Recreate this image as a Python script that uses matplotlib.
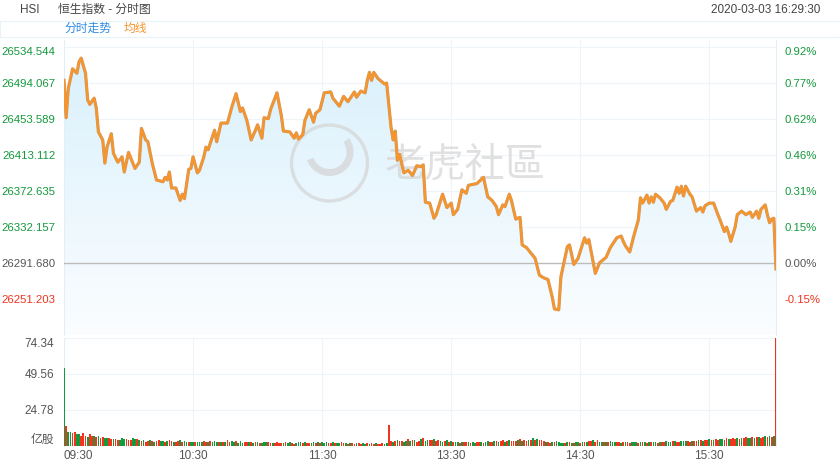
"""
HSI intraday chart (2020-03-03): price line with shaded area on top,
minute volume bars underneath.
"""

import matplotlib.pyplot as plt
import matplotlib.patheffects as pe
import numpy as np
from matplotlib.colors import LinearSegmentedColormap
from matplotlib.patches import Circle, Polygon, Rectangle, Wedge
from matplotlib.transforms import IdentityTransform

plt.rcParams['font.family'] = ['Liberation Sans', 'Noto Sans CJK SC', 'DejaVu Sans']

# Data
# ----------------------------------------------------------------------------

prev_close = 26291.680
price_ticks = [26251.203, 26291.680, 26332.157, 26372.635, 26413.112,
               26453.589, 26494.067, 26534.544]
price_range = (26210.7, 26542.4)    # visible level range of the price panel

# minute index since 09:30 (lunch break removed) and index level
price_min = [
    0, 1, 2, 4, 6, 7, 8, 10, 11, 12, 14, 15, 16, 18, 19, 20, 22, 23, 25, 27,
    28, 30, 33, 35, 36, 38, 39, 41, 43, 46, 47, 48, 49, 50, 52, 54, 55, 56, 58,
    59, 60, 62, 63, 65, 66, 67, 70, 71, 73, 76, 78, 80, 82, 83, 85, 87, 89, 90,
    92, 93, 95, 96, 99, 101, 102, 105, 107, 108, 109, 111, 112, 114, 116, 117,
    119, 121, 124, 125, 128, 130, 132, 135, 136, 138, 140, 141, 142, 143, 144,
    146, 149, 150, 152, 153, 154, 155, 156, 158, 160, 162, 164, 166, 167, 168,
    170, 172, 173, 176, 178, 180, 181, 183, 185, 187, 188, 192, 195, 197, 199,
    201, 202, 204, 205, 207, 208, 210, 212, 213, 215, 217, 219, 221, 223, 225,
    227, 228, 230, 231, 234, 235, 237, 239, 242, 243, 244, 247, 249, 252, 254,
    257, 259, 260, 261, 263, 265, 267, 268, 269, 271, 272, 273, 274, 275, 277,
    279, 280, 282, 283, 285, 286, 287, 288, 289, 291, 292, 294, 296, 297, 298,
    300, 302, 304, 305, 307, 308, 309, 310, 312, 313, 315, 317, 319, 320, 322,
    323, 324, 326, 327, 328, 329, 330, 331,
]
price = [
    26497, 26455, 26488, 26510, 26505, 26518, 26522, 26505, 26475, 26470,
    26477, 26466, 26439, 26430, 26404, 26422, 26437, 26415, 26405, 26411,
    26394, 26416, 26398, 26405, 26443, 26430, 26428, 26404, 26385, 26383,
    26388, 26385, 26394, 26376, 26376, 26362, 26369, 26364, 26397, 26398,
    26411, 26393, 26396, 26411, 26422, 26419, 26441, 26428, 26449, 26449,
    26467, 26482, 26462, 26466, 26452, 26430, 26441, 26447, 26432, 26455,
    26454, 26464, 26483, 26458, 26440, 26439, 26432, 26438, 26431, 26436,
    26452, 26464, 26450, 26460, 26464, 26483, 26484, 26477, 26468, 26479,
    26473, 26484, 26478, 26485, 26483, 26497, 26506, 26497, 26506, 26499,
    26493, 26494, 26445, 26430, 26440, 26407, 26414, 26393, 26396, 26390,
    26401, 26400, 26402, 26360, 26359, 26342, 26346, 26369, 26354, 26359,
    26346, 26352, 26374, 26370, 26379, 26381, 26388, 26366, 26362, 26355,
    26346, 26357, 26355, 26369, 26362, 26341, 26343, 26312, 26309, 26303,
    26297, 26278, 26275, 26273, 26253, 26240, 26239, 26276, 26310, 26312,
    26290, 26297, 26320, 26314, 26318, 26280, 26292, 26298, 26309, 26320,
    26322, 26316, 26311, 26304, 26323, 26340, 26365, 26359, 26368, 26359,
    26366, 26360, 26369, 26365, 26359, 26352, 26361, 26362, 26377, 26370,
    26378, 26367, 26378, 26369, 26366, 26350, 26354, 26349, 26356, 26359,
    26359, 26346, 26340, 26327, 26332, 26325, 26316, 26332, 26346, 26350,
    26346, 26349, 26343, 26350, 26342, 26352, 26357, 26346, 26337, 26341,
    26342, 26285,
]

# minute volume, 亿股 (one bar per minute, 332 bars)
volume = [
    53.7, 13.8, 9.9, 9.4, 8.7, 9.6, 8.3, 8.3, 6.9, 9.2,
    6.9, 6.4, 8.0, 7.1, 6.6, 6.4, 6.9, 5.5, 6.0, 5.7,
    5.3, 5.7, 4.8, 4.6, 5.0, 4.4, 4.4, 5.3, 5.0, 4.8,
    4.1, 3.9, 5.3, 4.8, 4.8, 4.4, 3.4, 3.9, 3.0, 3.7,
    4.1, 3.4, 3.0, 3.2, 3.9, 3.4, 3.6, 3.0, 3.7, 4.1,
    3.2, 3.0, 2.8, 3.7, 4.1, 3.0, 3.2, 3.0, 2.8, 2.8,
    2.5, 2.8, 2.5, 2.8, 3.0, 3.2, 3.0, 2.5, 3.2, 2.7,
    3.4, 2.5, 2.8, 3.0, 2.5, 2.5, 4.4, 2.8, 3.2, 3.0,
    3.4, 2.3, 3.6, 2.3, 3.0, 2.5, 2.5, 2.8, 2.1, 2.5,
    2.8, 2.3, 2.1, 2.5, 2.8, 2.5, 2.3, 1.8, 2.3, 2.5,
    2.1, 2.3, 2.1, 2.8, 1.8, 2.5, 2.3, 1.6, 2.1, 2.5,
    2.8, 2.1, 2.5, 2.3, 1.8, 2.3, 2.5, 2.1, 2.8, 2.3,
    2.5, 2.1, 2.8, 2.3, 2.1, 2.5, 2.3, 2.1, 1.8, 2.5,
    2.1, 1.8, 1.6, 2.1, 1.8, 1.6, 1.8, 2.1, 1.6, 1.8,
    1.4, 1.8, 1.6, 2.1, 1.6, 1.8, 1.4, 1.6, 1.8, 1.6,
    1.8,
    14.5, 3.2, 3.0, 3.4, 4.1, 3.2, 3.7, 3.0, 3.4, 4.6,
    3.7, 3.9, 4.1, 3.0, 3.2, 4.6, 5.3, 3.4, 4.1, 4.4,
    4.4, 4.6, 3.7, 3.9, 3.4, 3.0, 3.4, 4.4, 3.0, 3.7,
    3.0, 2.8, 2.5, 2.3, 2.5, 3.0, 2.5, 2.8, 2.3, 2.5,
    2.3, 2.8, 3.0, 2.5, 2.3, 2.8, 3.2, 2.5, 2.8, 3.2,
    3.4, 3.0, 3.7, 4.1, 3.0, 3.7, 4.4, 3.4, 3.2, 3.7,
    3.9, 4.6, 3.7, 4.1, 3.4, 4.4, 3.9, 5.3, 4.1, 4.8,
    3.9, 4.1, 3.4, 3.0, 2.5, 2.3, 2.5, 3.0, 3.2, 2.8,
    2.3, 2.1, 2.3, 2.5, 2.8, 2.3, 2.1, 2.5, 2.8, 2.3,
    2.5, 3.0, 2.8, 3.2, 3.7, 4.1, 3.0, 4.4, 2.5, 2.8,
    3.0, 2.5, 2.8, 3.2, 2.5, 2.8, 3.0, 2.5, 2.3, 2.8,
    2.5, 2.8, 2.3, 2.5, 2.8, 2.5, 2.3, 2.8, 3.0, 2.5,
    2.3, 2.5, 2.8, 3.0, 2.5, 2.3, 2.8, 3.0, 2.8, 3.2,
    3.0, 2.8, 3.2, 3.4, 3.0, 2.8, 3.4, 3.2, 3.7, 3.4,
    3.0, 3.2, 3.7, 3.4, 3.9, 4.1, 3.7, 4.4, 3.9, 4.6,
    4.1, 4.4, 4.8, 4.1, 4.6, 5.0, 4.4, 5.3, 4.6, 5.0,
    5.3, 4.8, 5.5, 5.0, 5.7, 5.3, 6.0, 5.5, 5.7, 6.2,
    5.7, 6.0, 6.4, 5.7, 6.2, 6.6, 6.0, 6.9, 6.4, 7.1,
    74.34,
]
# g = up minute, r = down minute
vol_dir = (
    'grggrrggrr' 'rgrrgrgrrg' 'grrgrrgggr' 'rrggrgrgrr' 'grgrrggrgr'
    'rgrrgrggrg' 'grgggrrgrg' 'ggrgrgrrgg' 'rgggrrgrgr' 'grgggrrgrr'
    'rrgrggrrgg' 'grgrrggrgr' 'gggrrgrggr' 'rgrgrrgrrg' 'grgrrgrrrg'
    'g'
    'rrgrgrrggr' 'grgrrgrggr' 'rgrrggrgrg' 'rggrgrrgrg' 'grrgrggrrg'
    'rgrrgrgrrr' 'grgrrgrgrg' 'rrrgrrgrgg' 'ggrgrgrggr' 'grgrrgrrgg'
    'rgrgggrrgr' 'grrgggrgrg' 'rgrggrgrrg' 'ggrgrrgggr' 'rgrrgrgrrg'
    'rgrrggrrgr' 'rrgrgrrggr' 'grgrrgrgrg'
    'r'
)
vol_ticks = [0, 24.78, 49.56, 74.34]
vol_labels = ['亿股', '24.78', '49.56', '74.34']

time_ticks = [0, 60, 120, 180, 240, 300]
time_labels = ['09:30', '10:30', '11:30', '13:30', '14:30', '15:30']
n_min = 331

assert len(price_min) == len(price)
assert len(volume) == len(vol_dir) == n_min + 1

# Colours
green = '#14993c'
red = '#f0341e'
grey = '#555555'
grid_c = '#edf5fa'
spine_c = '#e3eef6'

W, H = 840, 470


def fig_box(x0, y0, x1, y1):
    """Pixel box (top-left origin) to figure fraction rect."""
    return [x0 / W, 1 - y1 / H, (x1 - x0) / W, (y1 - y0) / H]


fig = plt.figure(figsize=(W / 100, H / 100), dpi=100)

# Header
# ----------------------------------------------------------------------------

fig.add_artist(Rectangle((0, 1 - 37 / H), 1, 16 / H, transform=fig.transFigure,
                         facecolor='none', edgecolor='#e8f2f9', lw=0.8))
fig.text(20 / W, 1 - 10 / H, 'HSI', color='#444444', fontsize=8.5, va='center')
fig.text(58 / W, 1 - 10 / H, '恒生指数 - 分时图', color='#444444', fontsize=8.5,
         va='center')
fig.text(820 / W, 1 - 10 / H, '2020-03-03 16:29:30', color='#444444',
         fontsize=8.5, va='center', ha='right')
fig.text(64 / W, 1 - 29 / H, '分时走势', color='#2d8be6', fontsize=8.5, va='center')
fig.text(124 / W, 1 - 29 / H, '均线', color='#f7952c', fontsize=8.5, va='center')

# Price panel
# ----------------------------------------------------------------------------

ax = fig.add_axes(fig_box(64, 40, 776, 335))
ylo, yhi = price_range

cmap = LinearSegmentedColormap.from_list('fill', ['#fbfdff', '#d8f0fc'])
grad = np.linspace(1, 0, 256).reshape(-1, 1)
im = ax.imshow(grad, extent=[0, n_min, ylo, yhi], aspect='auto', cmap=cmap,
               origin='upper', zorder=1)
verts = list(zip(price_min, price)) + [(price_min[-1], ylo), (price_min[0], ylo)]
area = Polygon(verts, closed=True, facecolor='none', edgecolor='none')
ax.add_patch(area)
im.set_clip_path(area)

# watermark
ident = IdentityTransform()
ax.add_patch(Circle((329.5, H - 163), 38, transform=ident, facecolor='none',
                    edgecolor='#d4d4d4', lw=2.4, alpha=0.7, zorder=2))
ax.add_patch(Wedge((329.5, H - 152), 24, 200, 395, width=7, transform=ident,
                   facecolor='#d4d4d4', edgecolor='none', alpha=0.7, zorder=2))
ax.text(465, H - 165, '老虎社區', transform=ident, fontsize=29, color='#d4d4d4',
        alpha=0.7, ha='center', va='center', family=['Noto Sans CJK TC'],
        zorder=2)

ax.axhline(prev_close, color='#bcbcbc', lw=1, zorder=3)
ax.plot(price_min, price, color='#f7952c', lw=1.6, zorder=4,
        path_effects=[pe.Stroke(linewidth=2.3, foreground='#c99a66'), pe.Normal()])

ax.set_xlim(0, n_min)
ax.set_ylim(ylo, yhi)
ax.set_xticks(time_ticks)
ax.set_xticklabels([])
ax.set_yticks(price_ticks)
ax.set_yticklabels([f'{v:.3f}' for v in price_ticks])
ax.grid(True, color=grid_c, lw=0.8)
ax.set_axisbelow(True)
ax.tick_params(length=0, labelsize=8.2)
ax.tick_params(axis='y', pad=6)
for s in ax.spines.values():
    s.set_color(spine_c)
ax.spines['bottom'].set_visible(False)
ax.spines['top'].set_visible(False)


def level_color(v):
    if abs(v - prev_close) < 1e-6:
        return grey
    return green if v > prev_close else red


for lab, v in zip(ax.get_yticklabels(), price_ticks):
    lab.set_color(level_color(v))
ax.get_yticklabels()[-1].set_va('top')

ax2 = ax.twinx()
ax2.set_ylim(ylo, yhi)
ax2.set_yticks(price_ticks)
ax2.set_yticklabels([f'{(v - prev_close) / prev_close * 100:.2f}%'
                     for v in price_ticks])
ax2.tick_params(length=0, labelsize=8.2, pad=6)
for s in ax2.spines.values():
    s.set_visible(False)
for lab, v in zip(ax2.get_yticklabels(), price_ticks):
    lab.set_color(level_color(v))
ax2.get_yticklabels()[-1].set_va('top')

# Volume panel
# ----------------------------------------------------------------------------

axv = fig.add_axes(fig_box(64, 338, 776, 446))
x = np.arange(len(volume))
colors = [green if d == 'g' else red for d in vol_dir]
axv.bar(x, volume, width=0.8, color=colors, linewidth=0, zorder=3)
axv.set_xlim(0, n_min)
axv.set_ylim(0, vol_ticks[-1])
axv.set_yticks(vol_ticks)
axv.set_yticklabels(vol_labels, color=grey)
axv.set_xticks(time_ticks)
axv.set_xticklabels(time_labels, color=grey)
axv.get_xticklabels()[0].set_ha('left')
axv.get_yticklabels()[0].set_va('bottom')
axv.get_yticklabels()[-1].set_va('top')
axv.grid(True, color=grid_c, lw=0.8)
axv.set_axisbelow(True)
axv.tick_params(length=0, labelsize=8.5)
axv.tick_params(axis='y', pad=7)
axv.tick_params(axis='x', pad=3)
for s in axv.spines.values():
    s.set_color(spine_c)
axv.spines['bottom'].set_visible(False)
axv.spines['top'].set_visible(False)

fig.savefig('out.png', dpi=100)
